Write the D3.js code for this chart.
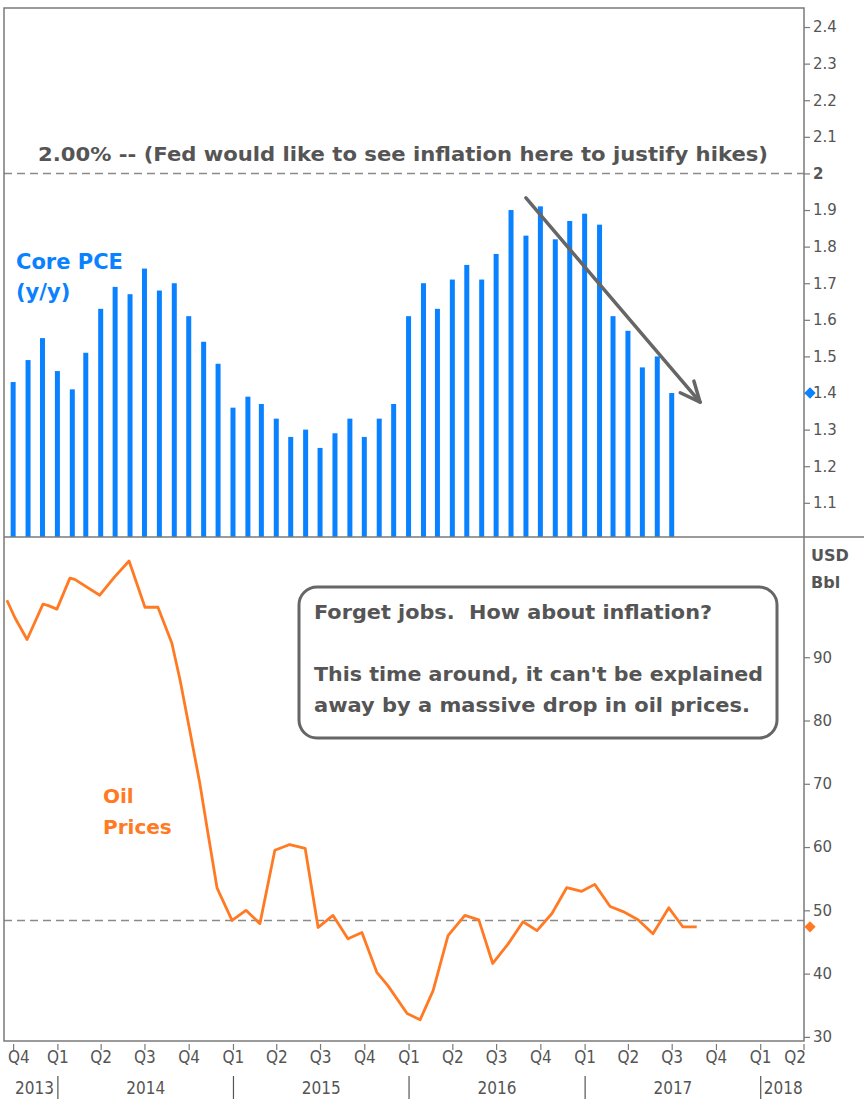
<!DOCTYPE html>
<html>
<head>
<meta charset="utf-8">
<script src="https://cdn.jsdelivr.net/npm/d3@7"></script>
<style>
  html, body { margin: 0; padding: 0; background: #fff; }
  svg { display: block; }
  text { white-space: pre; }
</style>
</head>
<body>
<div id="chart"></div>
<script>
// Core PCE y/y, monthly, Sep 2013 .. Jun 2017 (plotted at month end)
const pceValues = [
  1.43, 1.49, 1.55, 1.46, 1.41, 1.51, 1.63, 1.69, 1.67, 1.74, 1.68, 1.70,
  1.61, 1.54, 1.48, 1.36, 1.39, 1.37, 1.33, 1.28, 1.30, 1.25, 1.29, 1.33,
  1.28, 1.33, 1.37, 1.61, 1.70, 1.63, 1.71, 1.75, 1.71, 1.78, 1.90, 1.83,
  1.91, 1.82, 1.87, 1.89, 1.86, 1.61, 1.57, 1.47, 1.50, 1.40,
];
const pceMonths = d3.timeMonth.range(new Date(2013, 8, 1), new Date(2017, 6, 1));

// Oil price, USD/bbl
const oilDates = [
  "2013-09-17", "2013-10-04", "2013-10-29", "2013-12-01", "2013-12-11", "2013-12-30",
  "2014-01-26", "2014-02-05", "2014-03-29", "2014-04-29", "2014-05-29", "2014-07-01",
  "2014-07-28", "2014-08-26", "2014-09-12", "2014-10-02", "2014-10-23", "2014-11-07",
  "2014-11-28", "2014-12-29", "2015-01-27", "2015-02-25", "2015-03-28", "2015-04-28",
  "2015-05-30", "2015-06-26", "2015-07-27", "2015-08-27", "2015-09-25", "2015-10-26",
  "2015-11-18", "2015-12-28", "2016-01-24", "2016-02-20", "2016-03-22", "2016-04-26",
  "2016-05-25", "2016-06-23", "2016-07-25", "2016-08-25", "2016-09-23", "2016-10-24",
  "2016-11-24", "2016-12-25", "2017-01-21", "2017-02-22", "2017-03-21", "2017-04-21",
  "2017-05-22", "2017-06-24", "2017-07-23", "2017-08-21",
];
const oilValues = [
  99.0, 96.2, 92.8, 98.4, 98.2, 97.6,
  102.5, 102.3, 99.8, 102.7, 105.2, 97.9,
  97.9, 92.2, 86.4, 78.5, 70.1, 63.1,
  53.5, 48.4, 50.0, 47.9, 59.5, 60.4,
  59.8, 47.3, 49.2, 45.5, 46.5, 40.2,
  38.1, 33.7, 32.7, 37.3, 46.0, 49.2,
  48.5, 41.6, 44.7, 48.2, 46.8, 49.5,
  53.6, 53.0, 54.1, 50.6, 49.8, 48.5,
  46.3, 50.4, 47.4, 47.4,
];

const pceTicks = [2.4, 2.3, 2.2, 2.1, 2.0, 1.9, 1.8, 1.7, 1.6, 1.5, 1.4, 1.3, 1.2, 1.1];
const oilTicks = [90, 80, 70, 60, 50, 40, 30];
const years = [2013, 2014, 2015, 2016, 2017, 2018];

const FED_TARGET = 2.0;
const PCE_LAST = 1.40;
const OIL_REF = 48.4;
const OIL_LAST = 47.4;

const W = 864, H = 1099;
const LEFT = 4, RIGHT = 804, TOP = 8, MID = 537, BOTTOM = 1041;
const GRAY = "#555";
const FRAME = "#7a7a7a";
const BLUE = "#0a82ff";
const ORANGE = "#ff7a22";
const FONT = "'DejaVu Sans', Verdana, sans-serif";
const NARROW = "'Liberation Sans Narrow', 'DejaVu Sans Condensed', 'Arial Narrow', sans-serif";

const parse = d3.timeParse("%Y-%m-%d");
const oil = oilDates.map((d, i) => ({ date: parse(d), value: oilValues[i] }));
const pce = pceMonths.map((m, i) => ({
  date: d3.timeDay.offset(d3.timeMonth.offset(m, 1), -1),
  value: pceValues[i],
}));

const x = d3.scaleTime()
  .domain([new Date(2013, 8, 11), new Date(2018, 3, 1)])
  .range([LEFT, RIGHT]);
const yPce = d3.scaleLinear().domain([1.0066, 2.452]).range([MID, TOP]);
const yOil = d3.scaleLinear().domain([29.35, 109.0]).range([BOTTOM, MID]);

const svg = d3.select("#chart").append("svg")
  .attr("width", W)
  .attr("height", H)
  .style("font-family", FONT);

svg.append("rect").attr("width", W).attr("height", H).attr("fill", "#fff");

const defs = svg.append("defs");
defs.append("clipPath").attr("id", "clip-top")
  .append("rect").attr("x", LEFT).attr("y", TOP).attr("width", RIGHT - LEFT).attr("height", MID - TOP);
defs.append("clipPath").attr("id", "clip-bottom")
  .append("rect").attr("x", LEFT).attr("y", MID).attr("width", RIGHT - LEFT).attr("height", BOTTOM - MID);

// ---- top panel: Core PCE bars
const topPanel = svg.append("g").attr("clip-path", "url(#clip-top)");

topPanel.selectAll(".bar")
  .data(pce)
  .enter()
  .append("rect")
  .attr("class", "bar")
  .attr("x", (d) => x(d.date) - 2.5)
  .attr("y", (d) => yPce(d.value))
  .attr("width", 5)
  .attr("height", (d) => MID - yPce(d.value))
  .attr("fill", BLUE);

topPanel.append("line")
  .attr("x1", LEFT).attr("x2", RIGHT)
  .attr("y1", yPce(FED_TARGET)).attr("y2", yPce(FED_TARGET))
  .attr("stroke", "#8a8a8a").attr("stroke-width", 1.5)
  .attr("stroke-dasharray", "8,5");

// ---- bottom panel: oil line
const bottomPanel = svg.append("g").attr("clip-path", "url(#clip-bottom)");

bottomPanel.append("line")
  .attr("x1", LEFT).attr("x2", RIGHT)
  .attr("y1", yOil(OIL_REF)).attr("y2", yOil(OIL_REF))
  .attr("stroke", "#8a8a8a").attr("stroke-width", 1.5)
  .attr("stroke-dasharray", "8,5");

bottomPanel.append("path")
  .datum(oil)
  .attr("fill", "none")
  .attr("stroke", ORANGE)
  .attr("stroke-width", 2.8)
  .attr("stroke-linejoin", "round")
  .attr("d", d3.line().x((d) => x(d.date)).y((d) => yOil(d.value)));

// ---- frame
svg.append("rect")
  .attr("x", LEFT).attr("y", TOP)
  .attr("width", RIGHT - LEFT).attr("height", BOTTOM - TOP)
  .attr("fill", "none").attr("stroke", FRAME).attr("stroke-width", 1.5);
svg.append("line")
  .attr("x1", LEFT).attr("x2", W)
  .attr("y1", MID).attr("y2", MID)
  .attr("stroke", FRAME).attr("stroke-width", 1.5);

// ---- right axes
const axisPce = svg.append("g")
  .attr("transform", `translate(${RIGHT},0)`)
  .call(d3.axisRight(yPce).tickValues(pceTicks).tickSize(6).tickPadding(3)
    .tickFormat((d) => (d === 2 ? "2" : d3.format(".1f")(d))));
const axisOil = svg.append("g")
  .attr("transform", `translate(${RIGHT},0)`)
  .call(d3.axisRight(yOil).tickValues(oilTicks).tickSize(6).tickPadding(3));

[axisPce, axisOil].forEach((g) => {
  g.select(".domain").remove();
  g.selectAll(".tick line").attr("stroke", FRAME).attr("stroke-width", 1.2);
  g.selectAll(".tick text")
    .attr("fill", GRAY)
    .style("font-family", FONT)
    .style("font-size", "15px");
});
axisPce.selectAll(".tick text").filter((d) => d === 2).style("font-weight", "bold");

svg.append("text").attr("x", 811).attr("y", 561)
  .attr("fill", GRAY).style("font-weight", "bold").style("font-size", "16px").text("USD");
svg.append("text").attr("x", 811).attr("y", 588)
  .attr("fill", GRAY).style("font-weight", "bold").style("font-size", "16px").text("Bbl");

// last-value diamonds (square turned 45 degrees)
const diamond = d3.symbol().type(d3.symbolSquare).size(64);
svg.append("path").attr("d", diamond)
  .attr("transform", `translate(${RIGHT + 6},${yPce(PCE_LAST)}) rotate(45)`).attr("fill", BLUE);
svg.append("path").attr("d", diamond)
  .attr("transform", `translate(${RIGHT + 6},${yOil(OIL_LAST)}) rotate(45)`).attr("fill", ORANGE);

// ---- x axis: quarters and years
const quarters = d3.timeMonth.every(3).range(new Date(2013, 9, 1), new Date(2018, 3, 2));
const xAxis = svg.append("g");
xAxis.selectAll(".qtick")
  .data(quarters)
  .enter()
  .append("line")
  .attr("x1", (d) => x(d)).attr("x2", (d) => x(d))
  .attr("y1", BOTTOM + 3).attr("y2", BOTTOM + 9)
  .attr("stroke", FRAME).attr("stroke-width", 1.2);

xAxis.selectAll(".qlabel")
  .data(quarters)
  .enter()
  .append("text")
  .attr("x", (d, i) => (i === 0 ? LEFT + 4 : i === quarters.length - 1 ? RIGHT + 2 : x(d)))
  .attr("y", 1063)
  .attr("text-anchor", (d, i) => (i === 0 ? "start" : i === quarters.length - 1 ? "end" : "middle"))
  .attr("fill", GRAY)
  .style("font-family", NARROW)
  .style("font-size", "17px")
  .text((d) => "Q" + (Math.floor(d.getMonth() / 3) + 1));

const yearStarts = years.slice(1).map((y) => new Date(y, 0, 1));
xAxis.selectAll(".ysep")
  .data(yearStarts)
  .enter()
  .append("line")
  .attr("x1", (d) => x(d)).attr("x2", (d) => x(d))
  .attr("y1", 1076).attr("y2", H)
  .attr("stroke", GRAY).attr("stroke-width", 1.2);

xAxis.selectAll(".ylabel")
  .data(years)
  .enter()
  .append("text")
  .attr("x", (y) => {
    if (y === years[0]) return x(new Date(y + 1, 0, 1)) - 4;
    if (y === years[years.length - 1]) return x(new Date(y, 0, 1)) + 3;
    return (x(new Date(y, 0, 1)) + x(new Date(y + 1, 0, 1))) / 2;
  })
  .attr("y", 1094)
  .attr("text-anchor", (y) => (y === years[0] ? "end" : y === years[years.length - 1] ? "start" : "middle"))
  .attr("fill", GRAY)
  .style("font-family", NARROW)
  .style("font-size", "17px")
  .text((y) => y);

// ---- annotations
svg.append("text")
  .attr("x", 38).attr("y", 161)
  .attr("fill", GRAY)
  .attr("textLength", 730).attr("lengthAdjust", "spacingAndGlyphs")
  .style("font-weight", "bold").style("font-size", "19px")
  .text("2.00% -- (Fed would like to see inflation here to justify hikes)");

const pceLabel = svg.append("text")
  .attr("fill", BLUE).style("font-weight", "bold").style("font-size", "21px");
pceLabel.append("tspan").attr("x", 16).attr("y", 269).text("Core PCE");
pceLabel.append("tspan").attr("x", 16).attr("y", 299).text("(y/y)");

const oilLabel = svg.append("text")
  .attr("fill", ORANGE).style("font-weight", "bold").style("font-size", "20px");
oilLabel.append("tspan").attr("x", 103).attr("y", 803).text("Oil");
oilLabel.append("tspan").attr("x", 103).attr("y", 834).text("Prices");

// arrow showing the recent decline
const arrowFrom = { date: new Date(2016, 7, 31), value: 1.933 };
const arrowTo = { date: new Date(2017, 7, 28), value: 1.375 };
const ax1 = x(arrowFrom.date), ay1 = yPce(arrowFrom.value);
const ax2 = x(arrowTo.date), ay2 = yPce(arrowTo.value);
const ang = Math.atan2(ay2 - ay1, ax2 - ax1);
const headLen = 22, headSpread = 0.42;
svg.append("line")
  .attr("x1", ax1).attr("y1", ay1).attr("x2", ax2).attr("y2", ay2)
  .attr("stroke", "#666").attr("stroke-width", 3.5).attr("stroke-linecap", "round");
svg.append("path")
  .attr("d", d3.line()([
    [ax2 - headLen * Math.cos(ang - headSpread), ay2 - headLen * Math.sin(ang - headSpread)],
    [ax2, ay2],
    [ax2 - headLen * Math.cos(ang + headSpread), ay2 - headLen * Math.sin(ang + headSpread)],
  ]))
  .attr("fill", "none").attr("stroke", "#666").attr("stroke-width", 3.5)
  .attr("stroke-linecap", "round").attr("stroke-linejoin", "round");

// callout box
svg.append("rect")
  .attr("x", 299).attr("y", 587).attr("width", 478).attr("height", 151)
  .attr("rx", 18).attr("ry", 18)
  .attr("fill", "#fff").attr("stroke", "#666").attr("stroke-width", 3);

const boxLines = [
  { text: "Forget jobs.  How about inflation?", y: 619, len: 398 },
  { text: "This time around, it can't be explained", y: 681, len: 449 },
  { text: "away by a massive drop in oil prices.", y: 712, len: 436 },
];
svg.selectAll(".boxline")
  .data(boxLines)
  .enter()
  .append("text")
  .attr("x", 314)
  .attr("y", (d) => d.y)
  .attr("textLength", (d) => d.len)
  .attr("lengthAdjust", "spacingAndGlyphs")
  .attr("fill", GRAY)
  .style("font-weight", "bold")
  .style("font-size", "19px")
  .text((d) => d.text);
</script>
</body>
</html>
